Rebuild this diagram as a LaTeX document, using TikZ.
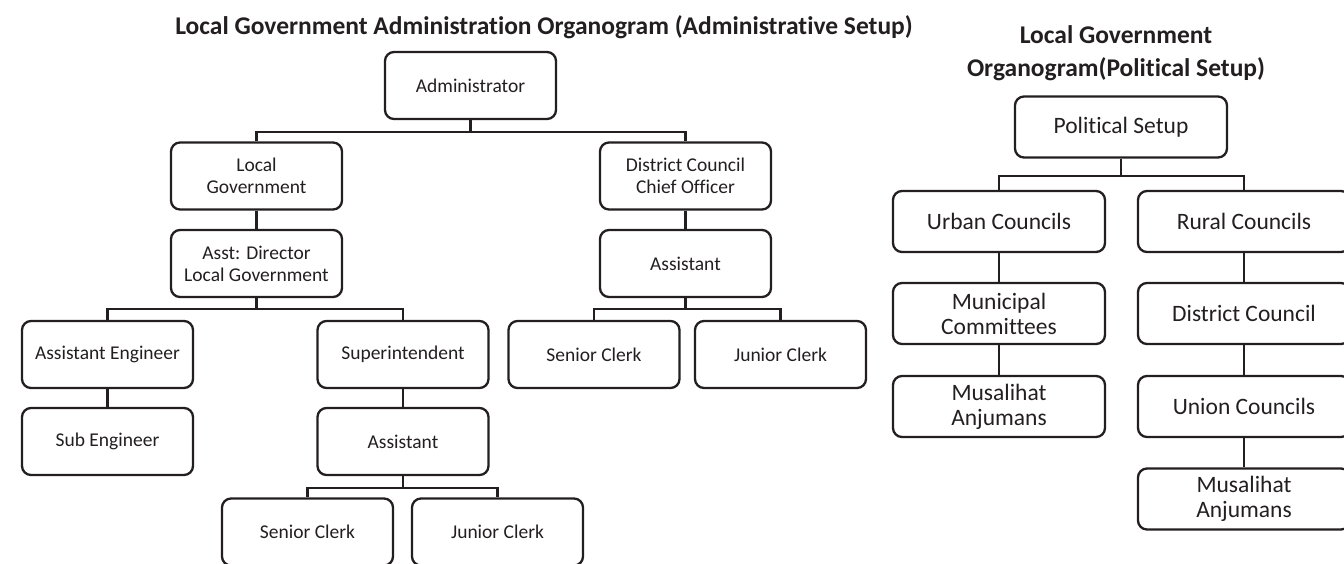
\documentclass[tikz,border=0pt]{standalone}
\usepackage{fontspec}
\setmainfont{Carlito}[Ligatures={NoCommon}]
\definecolor{ink}{HTML}{231F20}

\begin{document}
\begin{tikzpicture}[x=1pt, y=-1pt, line width=2.3pt, color=ink,
    box/.style={draw, rounded corners=9pt, minimum width=171pt, minimum height=67pt, inner sep=0pt, align=center, font=\fontsize{19.5}{22}\selectfont},
    pbox/.style={box, minimum width=212pt, minimum height=61pt, font=\fontsize{23.5}{25}\selectfont},
    heading/.style={align=center, font=\bfseries\fontsize{25.5}{33}\selectfont}]

    \useasboundingbox (0,0) rectangle (1344,563);

    % Titles
    \node[heading] (admtitle) at (544,27) {Local Government Administration Organogram (Administrative Setup)};
    \node[heading] (poltitle) at (1116,53.5) {Local Government\\Organogram(Political Setup)};

    % Administrative setup
    \node[box] (admin) at (470.5,85.5) {Administrator};
    \node[box] (localgov) at (256.5,176) {Local\\Government};
    \node[box] (dcco) at (685.5,176) {District Council\\Chief Officer};
    \node[box] (asstdir) at (256.5,263.5) {Asst: Director\\Local Government};
    \node[box] (dcasst) at (685.5,263.5) {Assistant};
    \node[box] (asseng) at (107.5,354.5) {Assistant Engineer};
    \node[box] (supdt) at (403,354.5) {Superintendent};
    \node[box] (seniorB) at (594,354.5) {Senior Clerk};
    \node[box] (juniorB) at (780.5,354.5) {Junior Clerk};
    \node[box] (subeng) at (107.5,441.5) {Sub Engineer};
    \node[box] (supasst) at (403,441.5) {Assistant};
    \node[box] (seniorA) at (307.5,532) {Senior Clerk};
    \node[box] (juniorA) at (497.5,532) {Junior Clerk};

    \draw (admin.south) -- ++(0,12) -| (localgov.north);
    \draw (admin.south) -- ++(0,12) -| (dcco.north);
    \draw (localgov) -- (asstdir);
    \draw (asstdir.south) -- ++(0,11) -| (asseng.north);
    \draw (asstdir.south) -- ++(0,11) -| (supdt.north);
    \draw (asseng) -- (subeng);
    \draw (supdt) -- (supasst);
    \draw (supasst.south) -- ++(0,12) -| (seniorA.north);
    \draw (supasst.south) -- ++(0,12) -| (juniorA.north);
    \draw (dcco) -- (dcasst);
    \draw (dcasst.south) -- ++(0,11) -| (seniorB.north);
    \draw (dcasst.south) -- ++(0,11) -| (juniorB.north);

    % Political setup
    \node[pbox] (polsetup) at (1121,127) {Political Setup};
    \node[pbox] (urban) at (999,221.5) {Urban Councils};
    \node[pbox] (rural) at (1244,221.5) {Rural Councils};
    \node[pbox] (municipal) at (999,313.5) {Municipal\\Committees};
    \node[pbox] (musalihatU) at (999,406.5) {Musalihat\\Anjumans};
    \node[pbox] (districtc) at (1244,313.5) {District Council};
    \node[pbox] (union) at (1244,406.5) {Union Councils};
    \node[pbox] (musalihatR) at (1244,499) {Musalihat\\Anjumans};

    \draw (polsetup.south) -- ++(0,17) -| (urban.north);
    \draw (polsetup.south) -- ++(0,17) -| (rural.north);
    \draw (urban) -- (municipal);
    \draw (municipal) -- (musalihatU);
    \draw (rural) -- (districtc);
    \draw (districtc) -- (union);
    \draw (union) -- (musalihatR);
\end{tikzpicture}
\end{document}
